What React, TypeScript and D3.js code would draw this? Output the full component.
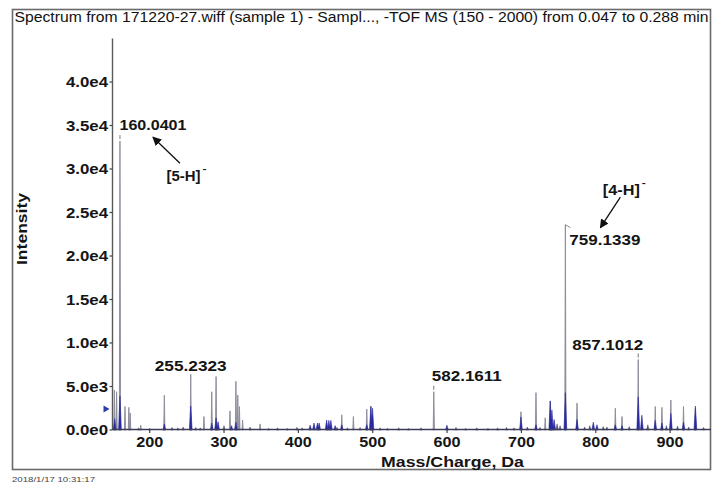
import React from 'react';
import * as d3 from 'd3';

const titleText = 'Spectrum from 171220-27.wiff (sample 1) - Sampl..., -TOF MS (150 - 2000) from 0.047 to 0.288 min';
const dateText = '2018/1/17 10:31:17';
const xAxisTitle = 'Mass/Charge, Da';
const yAxisTitle = 'Intensity';

const xTicks = [200, 300, 400, 500, 600, 700, 800, 900];
const yTicks = [0, 5000, 10000, 15000, 20000, 25000, 30000, 35000, 40000];
const yTickLabels = ['0.0e0', '5.0e3', '1.0e4', '1.5e4', '2.0e4', '2.5e4', '3.0e4', '3.5e4', '4.0e4'];

// profile peaks (grey) [m/z, intensity]
const greyPeaks: [number, number][] = [
  [152.5, 4600], [155.5, 4400], [160.04, 33200], [166.8, 2700], [172, 2600], [173.8, 1950],
  [188, 550], [219.7, 4000], [255.23, 6400], [273, 1550], [283.5, 4400], [289.3, 6150],
  [308, 2200], [316, 5600], [318.5, 4000], [320.7, 2700], [325, 1150], [348.5, 700],
  [458.4, 1750], [474, 1550], [492, 2400], [497.5, 2750], [582.16, 4400], [699.4, 2100],
  [719.6, 4300], [732, 1400], [738.8, 3300], [759.13, 23600], [774.8, 3100], [826.3, 2500],
  [835.3, 1550], [857.1, 8100], [880, 2700], [889, 2600], [901, 3450], [918, 2700], [934, 2500],
];

// centroid-like overlay peaks (blue) [m/z, intensity]
const bluePeaks: [number, number][] = [
  [153, 1300], [160.04, 3900], [219.7, 700], [255.23, 2750], [283.5, 800], [289.3, 1400],
  [292, 950], [310, 500], [316, 900], [415.8, 550], [421, 800], [425.7, 800], [428, 800],
  [438, 1150], [441, 1100], [443.7, 1100], [449.5, 500], [458.4, 600], [492, 600],
  [497.5, 2700], [499.7, 2500], [599.8, 550], [699.4, 1500], [719.6, 600], [738.8, 3350],
  [741, 2300], [744, 1200], [759.13, 4300], [774.8, 1200], [796.7, 900], [801.6, 600],
  [826.3, 600], [835.3, 500], [857.1, 3800], [862, 1700], [880, 1100], [889, 800],
  [901, 1900], [918, 900], [934, 2750],
];

// baseline noise [m/z, intensity]
const noisePeaks: [number, number][] = [
  [185, 250], [200, 200], [230, 300], [238, 250], [245, 350], [262, 300], [268, 250],
  [300, 500], [335, 350], [360, 200], [372, 250], [385, 200], [398, 300], [405, 250],
  [452, 300], [466, 250], [483, 300], [510, 250], [520, 200], [535, 250], [548, 200],
  [565, 250], [612, 300], [625, 200], [640, 250], [655, 200], [668, 250], [680, 300],
  [690, 250], [708, 350], [725, 300], [748, 700], [752, 500], [785, 350], [792, 500],
  [810, 400], [815, 350], [845, 400], [870, 600], [895, 500], [910, 450], [925, 350], [945, 300],
];

const peakLabels = [
  { mz: 160.04, text: '160.0401' },
  { mz: 255.23, text: '255.2323' },
  { mz: 582.16, text: '582.1611' },
  { mz: 759.13, text: '759.1339' },
  { mz: 857.1, text: '857.1012' },
];

const ionLabels = [
  { mz: 160.04, text: '[5-H]' },
  { mz: 759.13, text: '[4-H]' },
];

const W = 713;
const H = 484;
const FONT = 'Liberation Sans, Arial, Helvetica, sans-serif';

// layout for labels (pixel offsets from peak top)
const labelLayout: Record<string, { anchor: string; dx: number; dy: number; w: number; leader: boolean }> = {
  '160.0401': { anchor: 'start', dx: -0.5, dy: -11, w: 67, leader: true },
  '255.2323': { anchor: 'middle', dx: 0, dy: -3, w: 72, leader: false },
  '582.1611': { anchor: 'start', dx: -2, dy: -10.5, w: 70, leader: true },
  '759.1339': { anchor: 'start', dx: 4, dy: 20, w: 71, leader: false },
  '857.1012': { anchor: 'end', dx: 5, dy: -9.5, w: 71, leader: true },
};
const ionLayout: Record<string, { tx: number; ty: number; w: number; ax1: number; ay1: number; ax2: number; ay2: number }> = {
  '[5-H]': { tx: 46.5, ty: 40, w: 34, ax1: 60, ay1: 22, ax2: 33, ay2: -4 },
  '[4-H]': { tx: 37.5, ty: -29.5, w: 37, ax1: 55, ay1: -27.5, ax2: 35, ay2: 3 },
};

function Txt(p: any) {
  const { x, y, w, size = 14, weight = 'bold', anchor = 'start', fill = '#151515', children, transform } = p;
  return (
    <text
      x={x}
      y={y}
      fontSize={size}
      fontWeight={weight}
      textAnchor={anchor}
      fill={fill}
      fontFamily={FONT}
      textLength={w}
      lengthAdjust="spacingAndGlyphs"
      transform={transform}
    >
      {children}
    </text>
  );
}

export default function App() {
  const x = d3.scaleLinear().domain([150, 955]).range([112.5, 711]);
  const y = d3.scaleLinear().domain([0, 45000]).range([430, 38.5]);
  const y0 = y(0);

  const peakPath = (pk: [number, number][], hw: number) =>
    pk.map(([m, v]) => `M${x(m) - hw},${y0}L${x(m)},${y(v)}L${x(m) + hw},${y0}Z`).join('');

  const peakTop = (mz: number) => {
    const p = greyPeaks.find((g) => Math.abs(g[0] - mz) < 0.1);
    return p ? p[1] : 0;
  };

  return (
    <svg width={W} height={H} style={{ position: 'absolute', left: 0, top: 0, background: '#fff' }}>
      <defs>
        <marker id="ah" viewBox="0 0 10 10" refX="9" refY="5" markerWidth="9" markerHeight="9" markerUnits="userSpaceOnUse" orient="auto">
          <path d="M0,0L10,5L0,10Z" fill="#111" />
        </marker>
      </defs>
      <rect x={0} y={0} width={W} height={H} fill="#fff" />
      {/* outer frame */}
      <rect x={12.5} y={9.5} width={698} height={460} fill="none" stroke="#6a6a6a" strokeWidth={1.6} />
      <Txt x={14.5} y={22} w={694} size={14} weight="normal" fill="#111">{titleText}</Txt>

      {/* y axis */}
      <line x1={x(150)} x2={x(150)} y1={y(45000)} y2={y0} stroke="#5a5a5a" strokeWidth={1.4} />
      {yTicks.map((t, i) => (
        <g key={t}>
          <line x1={x(150) - 3} x2={x(150)} y1={y(t)} y2={y(t)} stroke="#444" strokeWidth={1.2} />
          <Txt x={108} y={y(t) + 5} w={42} size={14} anchor="end">{yTickLabels[i]}</Txt>
        </g>
      ))}
      <Txt x={0} y={0} w={72} size={15} anchor="middle" transform={`translate(27,229) rotate(-90)`}>{yAxisTitle}</Txt>

      {/* threshold marker */}
      <path d={`M${x(150) - 9},${y(2400) - 3.5}L${x(150) - 3},${y(2400)}L${x(150) - 9},${y(2400) + 3.5}Z`} fill="#2c3cae" />

      {/* x ticks */}
      {xTicks.map((t) => (
        <g key={t}>
          <line x1={x(t)} x2={x(t)} y1={y0} y2={y0 + 3} stroke="#444" strokeWidth={1.2} />
          <Txt x={x(t)} y={447} w={27} size={15} anchor="middle">{String(t)}</Txt>
        </g>
      ))}
      <Txt x={452.5} y={467} w={143} size={15} anchor="middle">{xAxisTitle}</Txt>

      {/* spectrum */}
      <path d={peakPath(noisePeaks, 1.2)} fill="#4a4a6a" stroke="#4a4a6a" strokeWidth={0.5} />
      <path d={peakPath(greyPeaks, 0.6)} fill="#8a8a98" stroke="#8a8a98" strokeWidth={0.9} />
      <path d={peakPath(bluePeaks, 1.4)} fill="#2a2aa0" stroke="#2a2aa0" strokeWidth={0.6} />
      <line x1={x(150)} x2={x(955)} y1={y0 - 0.5} y2={y0 - 0.5} stroke="#3c3c58" strokeWidth={1.4} />

      {/* peak labels */}
      {peakLabels.map((l) => {
        const L = labelLayout[l.text];
        const px = x(l.mz);
        const py = y(peakTop(l.mz));
        return (
          <g key={l.text}>
            {L.leader && <line x1={px} x2={px} y1={py - 6} y2={py - 2} stroke="#777" strokeWidth={1} />}
            {l.text === '759.1339' && (
              <path d={`M${px},${py}L${px + 5},${py + 3}`} stroke="#888" strokeWidth={1} fill="none" />
            )}
            <Txt x={px + L.dx} y={py + L.dy} w={L.w} size={15} anchor={L.anchor}>{l.text}</Txt>
          </g>
        );
      })}

      {/* ion annotations */}
      {ionLabels.map((l) => {
        const L = ionLayout[l.text];
        const px = x(l.mz);
        const py = y(peakTop(l.mz));
        return (
          <g key={l.text}>
            <line x1={px + L.ax1} y1={py + L.ay1} x2={px + L.ax2} y2={py + L.ay2} stroke="#111" strokeWidth={1.3} markerEnd="url(#ah)" />
            <Txt x={px + L.tx} y={py + L.ty} w={L.w} size={14}>{l.text}</Txt>
            <Txt x={px + L.tx + L.w + 2} y={py + L.ty - 9} w={4} size={9}>-</Txt>
          </g>
        );
      })}

      <Txt x={12} y={482} w={83} size={8} weight="normal" fill="#444">{dateText}</Txt>
    </svg>
  );
}
